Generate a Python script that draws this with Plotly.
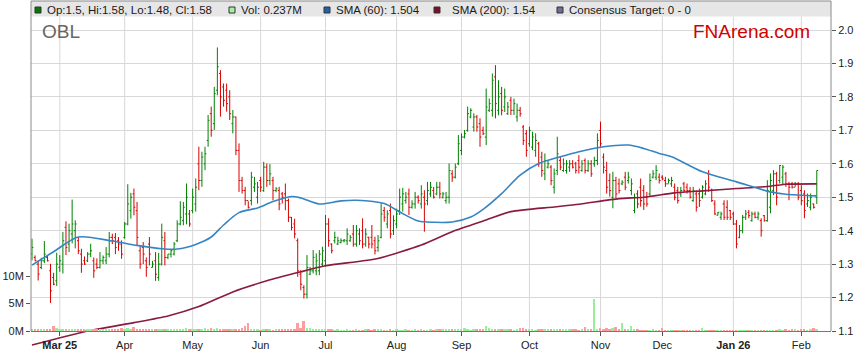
import pandas as pd
import plotly.graph_objects as go

# ---------------- data ----------------
n_bars = 255
dates = pd.bdate_range("2025-02-18", periods=n_bars)

opens = [
 1.33,1.32,1.30,1.29,1.31,1.32,1.28,1.26,1.25,1.29,1.30,1.41,1.36,1.39,1.40,1.37,1.33,1.31,1.31,1.33,
 1.31,1.30,1.29,1.31,1.31,1.33,1.38,1.38,1.37,1.36,1.38,1.42,1.46,1.51,1.46,1.34,1.35,1.31,1.36,1.29,
 1.31,1.26,1.30,1.37,1.32,1.33,1.33,1.37,1.42,1.43,1.45,1.45,1.46,
 1.48,1.60,1.55,1.60,1.67,1.75,1.72,1.82,1.87,1.83,1.82,1.80,1.72,1.74,1.64,1.55,1.52,1.49,1.49,1.53,
 1.50,1.55,1.52,1.59,1.55,1.55,1.52,1.52,1.51,1.51,1.49,1.44,1.42,1.37,1.27,1.23,1.21,1.27,1.28,1.28,
 1.28,1.30,1.31,1.42,1.36,1.37,1.36,1.365,1.37,1.37,1.37,1.39,
 1.36,1.39,1.40,1.36,1.38,1.38,1.37,1.35,1.38,1.46,1.42,1.46,1.40,1.42,1.46,1.48,1.49,1.51,1.47,1.48,
 1.50,1.48,1.50,1.49,1.51,1.52,1.51,1.53,1.50,1.49,1.50,1.57,1.56,1.60,1.64,1.68,1.70,1.74,1.71,1.74,
 1.72,1.70,1.68,1.76,1.76,1.86,1.76,1.81,1.77,1.75,1.79,1.76,
 1.74,1.76,1.71,1.69,1.66,1.65,1.64,1.66,1.62,1.57,1.59,1.59,1.53,1.58,1.61,1.58,1.58,1.59,1.60,1.60,
 1.61,1.58,1.61,1.58,1.60,1.60,1.61,1.70,1.62,1.58,1.55,1.50,1.55,1.54,1.54,1.56,1.55,1.52,1.46,1.51,
 1.53,1.52,1.50,1.51,1.56,1.56,1.56,1.56,1.55,1.54,1.54,
 1.53,1.52,1.51,1.54,1.53,1.52,1.49,1.51,1.51,1.50,1.51,1.57,1.52,1.48,1.446,1.44,1.48,1.47,1.46,1.45,
 1.42,1.38,1.40,1.44,1.455,1.43,1.45,1.44,1.43,1.445,1.43,1.47,1.52,1.57,1.55,1.56,1.57,1.54,1.54,1.53,
 1.54,1.52,1.51,1.48,1.47,1.48,1.50,
]
highs = [
 1.376,1.326,1.311,1.319,1.369,1.326,1.301,1.274,1.334,1.327,1.396,1.428,1.421,1.493,1.431,1.381,1.346,1.323,1.336,1.361,
 1.320,1.317,1.336,1.326,1.351,1.396,1.391,1.393,1.381,1.371,1.426,1.539,1.513,1.526,1.486,1.356,1.366,1.320,1.381,1.310,
 1.336,1.334,1.421,1.396,1.330,1.345,1.366,1.431,1.488,1.486,1.541,1.462,1.526,
 1.556,1.651,1.636,1.651,1.746,1.771,1.830,1.948,1.880,1.840,1.840,1.820,1.761,1.741,1.661,1.561,1.531,1.488,1.576,1.561,
 1.546,1.561,1.606,1.601,1.599,1.561,1.530,1.531,1.516,1.541,1.496,1.441,1.436,1.377,1.282,1.237,1.327,1.292,1.342,1.332,
 1.342,1.352,1.447,1.437,1.362,1.397,1.382,1.377,1.375,1.407,1.387,1.417,
 1.417,1.407,1.437,1.407,1.382,1.417,1.382,1.387,1.481,1.471,1.461,1.481,1.446,1.466,1.526,1.528,1.516,1.526,1.491,1.516,
 1.506,1.536,1.521,1.546,1.546,1.531,1.546,1.546,1.516,1.516,1.601,1.581,1.601,1.686,1.691,1.701,1.771,1.766,1.751,1.746,
 1.736,1.711,1.825,1.795,1.870,1.895,1.850,1.830,1.825,1.785,1.800,1.795,
 1.780,1.770,1.716,1.701,1.711,1.696,1.691,1.666,1.636,1.631,1.611,1.596,1.586,1.681,1.621,1.616,1.611,1.611,1.611,1.606,
 1.626,1.611,1.616,1.611,1.611,1.621,1.691,1.726,1.631,1.606,1.571,1.576,1.561,1.556,1.551,1.576,1.576,1.556,1.511,1.521,
 1.556,1.536,1.516,1.571,1.581,1.596,1.571,1.566,1.561,1.556,1.561,
 1.541,1.531,1.531,1.546,1.541,1.531,1.531,1.521,1.526,1.536,1.551,1.581,1.526,1.491,1.456,1.457,1.491,1.491,1.462,1.457,
 1.432,1.417,1.447,1.462,1.462,1.457,1.457,1.457,1.437,1.447,1.551,1.571,1.581,1.576,1.596,1.596,1.576,1.546,1.546,1.546,
 1.546,1.536,1.521,1.511,1.511,1.481,1.580,
]
lows = [
 1.311,1.309,1.251,1.285,1.303,1.308,1.184,1.237,1.235,1.277,1.272,1.327,1.336,1.362,1.347,1.330,1.274,1.298,1.306,1.321,
 1.259,1.285,1.287,1.300,1.300,1.320,1.360,1.330,1.340,1.316,1.376,1.416,1.436,1.446,1.356,1.286,1.300,1.262,1.296,1.290,
 1.250,1.250,1.296,1.296,1.315,1.320,1.326,1.366,1.416,1.416,1.419,1.412,1.452,
 1.457,1.521,1.531,1.581,1.651,1.681,1.701,1.805,1.741,1.771,1.756,1.731,1.691,1.626,1.516,1.511,1.476,1.466,1.476,1.516,
 1.481,1.516,1.516,1.531,1.536,1.491,1.515,1.461,1.481,1.461,1.426,1.401,1.377,1.262,1.222,1.197,1.197,1.267,1.272,1.267,
 1.267,1.292,1.292,1.352,1.332,1.362,1.357,1.362,1.365,1.357,1.367,1.352,
 1.352,1.357,1.347,1.352,1.347,1.347,1.329,1.337,1.377,1.427,1.407,1.377,1.387,1.407,1.447,1.457,1.481,1.447,1.466,1.466,
 1.481,1.466,1.397,1.476,1.501,1.496,1.506,1.496,1.496,1.481,1.481,1.546,1.556,1.596,1.626,1.676,1.696,1.736,1.696,1.696,
 1.651,1.686,1.656,1.755,1.741,1.736,1.745,1.745,1.755,1.746,1.746,1.746,
 1.726,1.741,1.656,1.621,1.651,1.641,1.621,1.591,1.561,1.551,1.586,1.536,1.511,1.566,1.581,1.576,1.571,1.576,1.586,1.571,
 1.571,1.576,1.571,1.576,1.561,1.591,1.596,1.651,1.571,1.511,1.502,1.467,1.497,1.511,1.536,1.521,1.541,1.506,1.452,1.467,
 1.472,1.462,1.472,1.501,1.556,1.551,1.541,1.551,1.531,1.541,1.531,
 1.491,1.481,1.501,1.516,1.511,1.496,1.486,1.457,1.471,1.496,1.506,1.516,1.486,1.447,1.446,1.432,1.432,1.432,1.432,1.417,
 1.347,1.377,1.392,1.432,1.437,1.427,1.437,1.432,1.382,1.427,1.427,1.452,1.506,1.476,1.541,1.536,1.531,1.491,1.526,1.531,
 1.491,1.476,1.437,1.471,1.461,1.466,1.480,
]
closes = [
 1.35,1.31,1.27,1.31,1.33,1.31,1.22,1.24,1.30,1.31,1.37,1.35,1.40,1.42,1.42,1.34,1.30,1.30,1.33,1.34,
 1.28,1.29,1.31,1.32,1.33,1.38,1.37,1.35,1.36,1.33,1.42,1.48,1.50,1.47,1.38,1.30,1.33,1.29,1.33,1.30,
 1.27,1.30,1.38,1.32,1.33,1.34,1.36,1.42,1.44,1.47,1.50,1.42,1.50,
 1.53,1.55,1.62,1.63,1.73,1.70,1.81,1.89,1.80,1.79,1.78,1.75,1.74,1.64,1.55,1.52,1.49,1.47,1.56,1.54,
 1.53,1.53,1.59,1.55,1.57,1.52,1.525,1.48,1.50,1.49,1.44,1.41,1.39,1.28,1.24,1.21,1.29,1.28,1.32,1.31,
 1.33,1.34,1.42,1.37,1.34,1.38,1.37,1.37,1.372,1.39,1.38,1.36,
 1.40,1.37,1.36,1.39,1.36,1.36,1.34,1.37,1.45,1.44,1.45,1.39,1.43,1.45,1.50,1.51,1.50,1.47,1.48,1.50,
 1.49,1.51,1.48,1.52,1.53,1.50,1.53,1.51,1.51,1.50,1.58,1.56,1.59,1.66,1.68,1.69,1.75,1.76,1.74,1.71,
 1.68,1.69,1.77,1.78,1.85,1.78,1.80,1.76,1.80,1.77,1.76,1.78,
 1.76,1.75,1.67,1.64,1.70,1.68,1.67,1.60,1.58,1.61,1.60,1.55,1.57,1.63,1.59,1.60,1.60,1.60,1.59,1.58,
 1.59,1.60,1.58,1.60,1.57,1.61,1.67,1.66,1.59,1.53,1.52,1.55,1.51,1.52,1.545,1.53,1.56,1.54,1.50,1.48,
 1.49,1.48,1.48,1.55,1.57,1.58,1.55,1.555,1.54,1.55,1.55,
 1.50,1.49,1.52,1.52,1.52,1.50,1.52,1.47,1.49,1.53,1.54,1.53,1.49,1.45,1.455,1.45,1.44,1.44,1.44,1.42,
 1.36,1.40,1.44,1.45,1.445,1.45,1.44,1.45,1.40,1.43,1.52,1.55,1.57,1.50,1.595,1.59,1.54,1.53,1.53,1.54,
 1.50,1.49,1.46,1.49,1.50,1.47,1.58,
]
volume_m = [
 0.35,0.40,0.30,0.20,0.25,0.45,0.45,1.00,0.60,0.35,0.40,0.30,0.35,0.30,0.25,0.20,0.30,0.25,0.20,0.30,
 0.25,0.20,0.30,0.20,0.25,0.30,0.45,0.30,0.45,0.50,0.40,0.50,0.45,0.80,0.40,0.35,0.40,0.30,0.35,0.25,
 0.30,0.20,0.30,0.25,0.20,0.30,0.25,0.30,0.25,0.30,0.50,0.30,0.25,0.30,0.35,0.45,0.50,0.45,0.50,0.40,
 0.50,0.45,0.30,0.25,0.30,0.30,0.35,0.40,0.60,1.00,1.40,0.40,0.20,0.20,0.15,0.20,0.25,0.20,0.15,0.20,
 0.25,0.45,0.20,0.25,0.30,0.35,1.40,0.50,1.90,0.60,0.50,0.40,0.35,0.40,0.30,0.40,0.35,0.20,0.15,0.20,
 0.10,0.15,0.20,0.10,0.15,0.20,0.10,0.15,0.20,0.25,0.15,0.20,0.30,0.20,0.15,0.10,0.20,0.15,0.20,0.10,
 0.15,0.20,0.15,0.10,0.20,0.15,0.20,0.10,0.15,0.20,0.15,0.20,0.25,0.20,0.30,0.25,0.35,0.30,0.40,0.30,
 0.50,0.20,0.15,0.20,0.20,0.30,0.30,0.90,0.50,0.30,0.25,0.35,0.30,0.20,0.25,0.20,0.15,0.25,0.50,0.50,
 0.40,0.20,0.25,0.15,0.20,0.25,0.20,0.30,0.25,0.30,0.35,0.30,0.25,0.20,0.30,0.25,0.20,0.15,0.20,0.80,
 0.30,0.20,5.90,0.40,0.50,0.45,0.50,0.45,0.60,0.75,0.20,1.50,0.20,0.30,1.00,0.20,0.20,0.15,0.10,0.10,
 0.15,0.20,0.10,0.15,0.50,0.10,0.15,0.10,0.10,0.15,0.10,0.10,0.10,0.15,0.15,0.15,0.10,0.50,0.10,0.10,
 0.15,0.10,0.10,0.15,0.10,0.10,0.10,0.15,0.10,0.15,0.10,0.15,0.10,0.15,0.10,0.10,0.15,0.10,0.15,0.10,
 0.10,0.15,0.20,0.15,0.20,0.15,0.20,0.20,0.15,0.20,0.20,0.15,0.20,0.50,0.237,
]

sma60_idx = [0, 7, 15, 26, 34, 42, 47, 53, 58, 62, 67, 73, 78, 84, 87, 93, 100, 105, 114, 119,
             125, 130, 136, 142, 146, 152, 158, 164, 171, 177, 185, 193, 198, 203, 207, 217, 228, 239, 244, 254]
sma60_val = [1.297, 1.337, 1.381, 1.369, 1.356, 1.346, 1.345, 1.359, 1.381, 1.417, 1.454, 1.468, 1.487,
             1.502, 1.498, 1.480, 1.489, 1.491, 1.481, 1.456, 1.429, 1.425, 1.426, 1.441, 1.464, 1.511,
             1.566, 1.601, 1.621, 1.636, 1.651, 1.656, 1.646, 1.631, 1.621, 1.576, 1.546, 1.516, 1.509, 1.504]
sma200_idx = [0, 17, 33, 44, 54, 65, 76, 87, 95, 112, 126, 136, 147, 155, 169, 177, 190, 198, 208,
              217, 228, 239, 244, 254]
sma200_val = [1.058, 1.098, 1.125, 1.145, 1.173, 1.217, 1.250, 1.277, 1.295, 1.317, 1.357, 1.397,
              1.432, 1.457, 1.471, 1.479, 1.496, 1.500, 1.513, 1.519, 1.526, 1.533, 1.539, 1.540]

month_ticks = ["2025-03-03", "2025-04-01", "2025-05-01", "2025-06-02", "2025-07-01", "2025-08-01",
               "2025-09-01", "2025-10-01", "2025-11-03", "2025-12-01", "2026-01-01", "2026-02-02"]
month_labels = ["<b>Mar 25</b>", "Apr", "May", "Jun", "Jul", "Aug", "Sep", "Oct", "Nov", "Dec",
                "<b>Jan 26</b>", "Feb"]
price_ticks = [1.1, 1.2, 1.3, 1.4, 1.5, 1.6, 1.7, 1.8, 1.9, 2.0]
vol_ticks = [0, 5e6, 10e6]
vol_labels = ["0M", "5M", "10M"]

legend_items = [
    ("Op:1.5, Hi:1.58, Lo:1.48, Cl:1.58", "#007a00", 35, 46),
    ("Vol: 0.237M", "#a4f0a4", 229, 240),
    ("SMA (60): 1.504", "#1e64a8", 324, 335),
    ("SMA (200): 1.54", "#7d0f2c", 434, 451),
    ("Consensus Target: 0 - 0", "#6c6c9c", 557, 568),
]

# ---------------- geometry helpers (pixels -> paper) ----------------
W, H = 859, 363
ML, MR, MT, MB = 31, 28, 1, 13
PW, PH = W - ML - MR, H - MT - MB
PX_PER_UNIT = 334.4          # price pixels per 1.0
AXIS_PX = 331                # pixel row of the x axis (price 1.1 / volume 0)
def px_x(px):
    return (px - ML) / PW
def px_y(py):
    return (H - MB - py) / PH
axis_pos = px_y(AXIS_PX)
below_px = (H - MB) - AXIS_PX
price_lo = 1.1 - below_px / PX_PER_UNIT
price_hi = 1.1 + (AXIS_PX - MT) / PX_PER_UNIT
vol_per_px = 5e6 / 27.5
vol_lo = -below_px * vol_per_px
vol_hi = (AXIS_PX - MT) * vol_per_px

FONT = "Liberation Sans, Arial, sans-serif"
GRID = "#d8d8d8"
FRAME = "#8a8a8a"

fig = go.Figure()

vol_colors = ["#99ee99" if c >= o else "#ff9c9c" for o, c in zip(opens, closes)]
fig.add_trace(go.Bar(
    x=dates, y=[v * 1e6 for v in volume_m], yaxis="y2",
    marker=dict(color=vol_colors, line=dict(width=0)),
    width=0.62 * 86400000, hoverinfo="skip",
))

fig.add_trace(go.Scatter(
    x=[dates[i] for i in sma200_idx], y=sma200_val, yaxis="y", mode="lines",
    line=dict(color="#8a1a40", width=1.6, shape="spline", smoothing=0.6),
))
fig.add_trace(go.Ohlc(
    x=dates, open=opens, high=highs, low=lows, close=closes, yaxis="y",
    increasing=dict(line=dict(color="#008000", width=1)),
    decreasing=dict(line=dict(color="#d80000", width=1)),
    tickwidth=0.45,
))
fig.add_trace(go.Scatter(
    x=[dates[i] for i in sma60_idx], y=sma60_val, yaxis="y", mode="lines",
    line=dict(color="#3585c4", width=1.6, shape="spline", smoothing=0.8),
))

shapes = []
# legend band
shapes.append(dict(type="rect", xref="paper", yref="paper", x0=0, x1=1, y0=px_y(16.5), y1=1,
                   fillcolor="#e6e6e6", line=dict(width=0), layer="below"))
# vertical grid lines at month ticks
for d in month_ticks:
    shapes.append(dict(type="line", xref="x", yref="paper", x0=d, x1=d, y0=axis_pos, y1=px_y(16.5),
                       line=dict(color=GRID, width=1), layer="below"))
# frame (left, right, top)
for xp in (0, 1):
    shapes.append(dict(type="line", xref="paper", yref="paper", x0=xp, x1=xp, y0=axis_pos, y1=1,
                       line=dict(color=FRAME, width=1), layer="above"))
shapes.append(dict(type="line", xref="paper", yref="paper", x0=0, x1=1, y0=1, y1=1,
                   line=dict(color=FRAME, width=1), layer="above"))

annotations = []
for text, col, sq_px, tx_px in legend_items:
    shapes.append(dict(type="rect", xref="paper", yref="paper",
                       x0=px_x(sq_px), x1=px_x(sq_px + 6), y0=px_y(13), y1=px_y(7),
                       fillcolor=col, line=dict(color="#333333", width=1), layer="above"))
    annotations.append(dict(text=text, xref="paper", yref="paper", x=px_x(tx_px), y=px_y(10),
                            xanchor="left", yanchor="middle", showarrow=False,
                            font=dict(family=FONT, size=11.5, color="#1a1a1a"), borderpad=0))
annotations.append(dict(text="OBL", xref="paper", yref="paper", x=px_x(41), y=px_y(31),
                        xanchor="left", yanchor="middle", showarrow=False, borderpad=0,
                        font=dict(family=FONT, size=19, color="#666666")))
annotations.append(dict(text="FNArena.com", xref="paper", yref="paper", x=px_x(692), y=px_y(31),
                        xanchor="left", yanchor="middle", showarrow=False, borderpad=0,
                        font=dict(family=FONT, size=19, color="#d40000")))

fig.update_layout(
    width=W, height=H, margin=dict(l=ML, r=MR, t=MT, b=MB),
    paper_bgcolor="white", plot_bgcolor="rgba(0,0,0,0)", showlegend=False,
    bargap=0, shapes=shapes, annotations=annotations,
    xaxis=dict(
        type="date", anchor="free", position=axis_pos,
        range=["2025-02-17 16:20", "2026-02-13 14:24"],
        rangebreaks=[dict(bounds=["sat", "mon"])],
        tickmode="array", tickvals=month_ticks, ticktext=month_labels,
        showgrid=False, showline=True, linecolor="#777777", linewidth=1,
        ticks="outside", ticklen=4, tickcolor="#555555",
        tickfont=dict(family=FONT, size=11, color="#222222"),
        rangeslider=dict(visible=False), fixedrange=True,
    ),
    yaxis=dict(
        domain=[0, 1], range=[price_lo, price_hi], side="right", anchor="x",
        tickmode="array", tickvals=price_ticks, tickformat=".1f",
        showgrid=True, gridcolor=GRID, gridwidth=1, zeroline=False, showline=False,
        ticks="outside", ticklen=4, tickcolor="#555555",
        tickfont=dict(family=FONT, size=11, color="#222222"),
    ),
    yaxis2=dict(
        overlaying="y", side="left", anchor="x", range=[vol_lo, vol_hi],
        tickmode="array", tickvals=vol_ticks, ticktext=vol_labels,
        showgrid=False, zeroline=False, showline=False,
        ticks="outside", ticklen=4, tickcolor="#555555",
        tickfont=dict(family=FONT, size=11, color="#222222"),
    ),
)

fig.write_html("out.html", config={"displayModeBar": False},
               post_script="document.body.style.margin='0px';")
